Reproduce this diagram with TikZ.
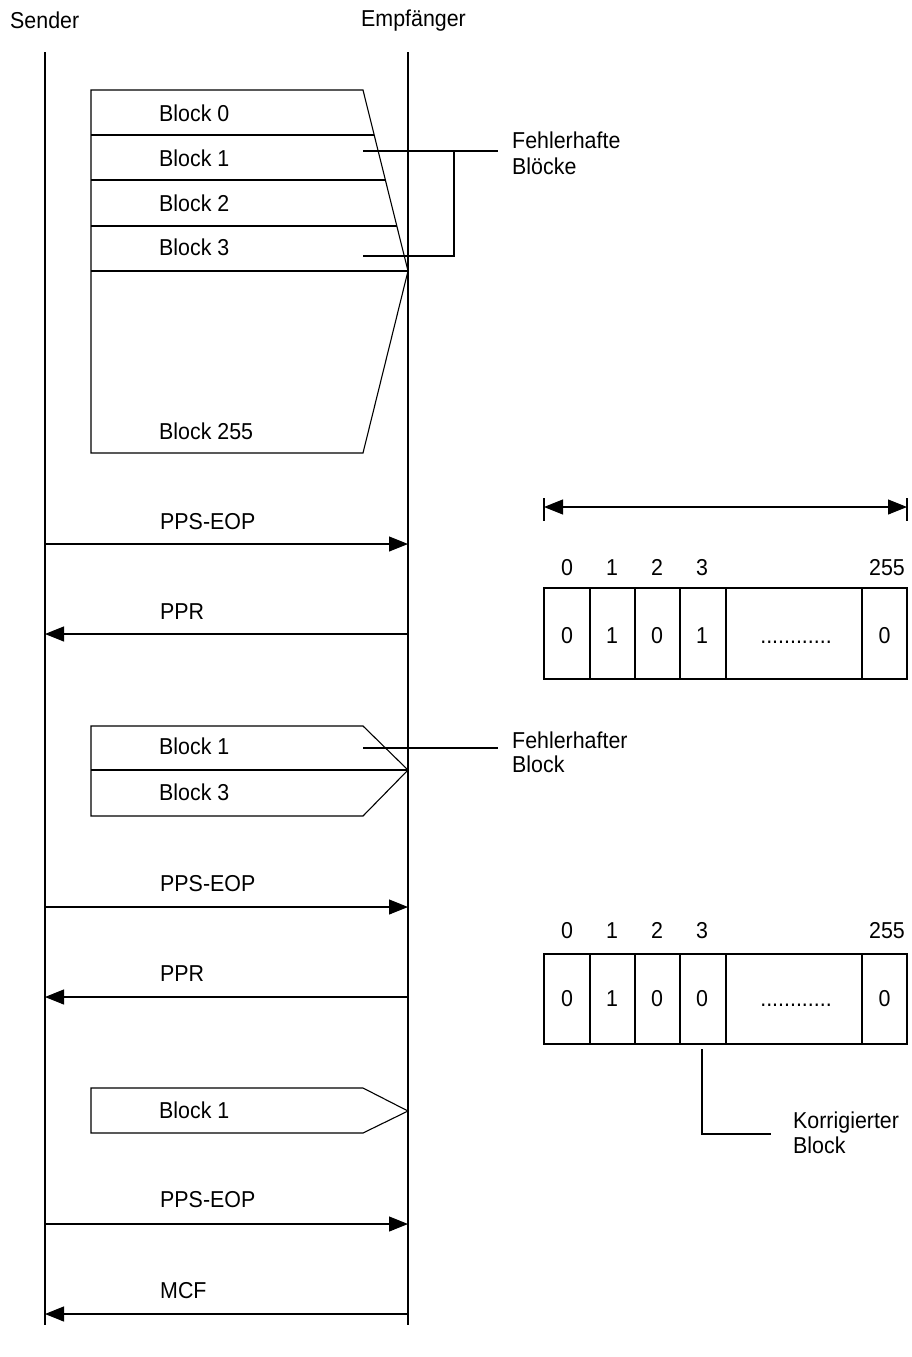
\documentclass[tikz,border=0pt]{standalone}
\usepackage{fontspec}
\setmainfont{Liberation Sans}[FakeStretch=0.93]
\usetikzlibrary{arrows.meta}
\begin{document}
\begin{tikzpicture}[x=1pt,y=-1pt,
  every node/.style={inner sep=0pt, font=\fontsize{23}{27}\selectfont},
  ln/.style={line width=1.1pt},
  msg/.style={line width=1.1pt, -{Triangle[length=19pt,width=15pt]}},
  dbl/.style={line width=1.1pt, {Triangle[length=19pt,width=15pt]}-{Triangle[length=19pt,width=15pt]}},
  lbl/.style={anchor=base west},
  num/.style={anchor=base}]
\useasboundingbox (0,0) rectangle (912,1357);

% headers and lifelines
\node[lbl] (sender) at (10,28) {Sender};
\node[lbl] (empf) at (361,27) {Empfänger};
\coordinate (S0) at (45,52);  \coordinate (S1) at (45,1325);
\coordinate (E0) at (408,52); \coordinate (E1) at (408,1325);
\draw[ln] (S0) -- (S1);
\draw[ln] (E0) -- (E1);

% first block group
\draw[ln] (91,90) -- (363,90) -- (408,271) -- (363,453) -- (91,453) -- cycle;
\draw[ln] (91,135) -- (374.2,135);
\draw[ln] (91,180) -- (385.4,180);
\draw[ln] (91,226) -- (396.8,226);
\draw[ln] (91,271) -- (408,271);
\node[lbl] (b0) at (159,121) {Block 0};
\node[lbl] (b1) at (159,166) {Block 1};
\node[lbl] (b2) at (159,211) {Block 2};
\node[lbl] (b3) at (159,255) {Block 3};
\node[lbl] (b255) at (159,439) {Block 255};

% bracket "Fehlerhafte Bloecke"
\coordinate (f1a) at (363,151); \coordinate (f1b) at (454,151); \coordinate (f1c) at (498,151);
\coordinate (f3a) at (363,256); \coordinate (f3b) at (454,256);
\draw[ln] (f1a) -- (f1c);
\draw[ln] (f3a) -- (f3b) -- (f1b);
\node[lbl] (fb1) at (512,148) {Fehlerhafte};
\node[lbl] (fb2) at (512,174) {Blöcke};

% PPS-EOP 1 / PPR 1
\coordinate (s1) at (45,544); \coordinate (e1) at (408,544);
\draw[msg] (s1) -- (e1);
\node[lbl] (m1) at (160,529) {PPS-EOP};
\coordinate (s2) at (45,634); \coordinate (e2) at (408,634);
\draw[msg] (e2) -- (s2);
\node[lbl] (m2) at (160,619) {PPR};

% range arrow
\coordinate (r0) at (544,507); \coordinate (r1) at (907,507);
\draw[dbl] (r0) -- (r1);
\draw[ln] (544,498) -- (544,521);
\draw[ln] (907,498) -- (907,521);

% bitmap 1
\draw[ln] (544,588) rectangle (907,679);
\foreach \x in {590,635,680,726,862} \draw[ln] (\x,588) -- (\x,679);
\node[num] (h10) at (567,575) {0};
\node[num] (h11) at (612,575) {1};
\node[num] (h12) at (657,575) {2};
\node[num] (h13) at (702,575) {3};
\node[anchor=base east] (h1e) at (905,575) {255};
\node[num] (v10) at (567,643) {0};
\node[num] (v11) at (612,643) {1};
\node[num] (v12) at (657,643) {0};
\node[num] (v13) at (702,643) {1};
\node[num] (v1d) at (796,643) {............};
\node[num] (v1e) at (884.5,643) {0};

% second block group
\draw[ln] (91,726) -- (363,726) -- (408,770) -- (363,816) -- (91,816) -- cycle;
\draw[ln] (91,770) -- (408,770);
\node[lbl] (c1) at (159,754) {Block 1};
\node[lbl] (c3) at (159,800) {Block 3};
\coordinate (g1a) at (363,748); \coordinate (g1b) at (498,748);
\draw[ln] (g1a) -- (g1b);
\node[lbl] (fe1) at (512,748) {Fehlerhafter};
\node[lbl] (fe2) at (512,772) {Block};

% PPS-EOP 2 / PPR 2
\coordinate (s3) at (45,907); \coordinate (e3) at (408,907);
\draw[msg] (s3) -- (e3);
\node[lbl] (m3) at (160,891) {PPS-EOP};
\coordinate (s4) at (45,997); \coordinate (e4) at (408,997);
\draw[msg] (e4) -- (s4);
\node[lbl] (m4) at (160,981) {PPR};

% bitmap 2
\draw[ln] (544,954) rectangle (907,1044);
\foreach \x in {590,635,680,726,862} \draw[ln] (\x,954) -- (\x,1044);
\node[num] (h20) at (567,938) {0};
\node[num] (h21) at (612,938) {1};
\node[num] (h22) at (657,938) {2};
\node[num] (h23) at (702,938) {3};
\node[anchor=base east] (h2e) at (905,938) {255};
\node[num] (v20) at (567,1006) {0};
\node[num] (v21) at (612,1006) {1};
\node[num] (v22) at (657,1006) {0};
\node[num] (v23) at (702,1006) {0};
\node[num] (v2d) at (796,1006) {............};
\node[num] (v2e) at (884.5,1006) {0};
\coordinate (k0) at (702,1049); \coordinate (k1) at (702,1134); \coordinate (k2) at (771,1134);
\draw[ln] (k0) -- (k1) -- (k2);
\node[lbl] (ko1) at (793,1128) {Korrigierter};
\node[lbl] (ko2) at (793,1153) {Block};

% third block
\draw[ln] (91,1088) -- (363,1088) -- (408,1111) -- (363,1133) -- (91,1133) -- cycle;
\node[lbl] (d1) at (159,1118) {Block 1};

% PPS-EOP 3 / MCF
\coordinate (s5) at (45,1224); \coordinate (e5) at (408,1224);
\draw[msg] (s5) -- (e5);
\node[lbl] (m5) at (160,1207) {PPS-EOP};
\coordinate (s6) at (45,1314); \coordinate (e6) at (408,1314);
\draw[msg] (e6) -- (s6);
\node[lbl] (m6) at (160,1298) {MCF};
\end{tikzpicture}
\end{document}
